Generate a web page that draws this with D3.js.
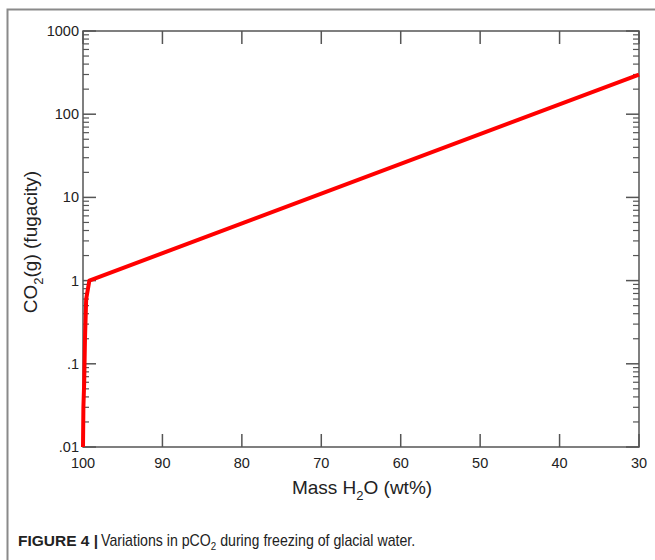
<!DOCTYPE html>
<html><head><meta charset="utf-8">
<script src="https://cdn.jsdelivr.net/npm/d3@7"></script>
<style>body{margin:0;background:#fff}svg{display:block;font-family:"Liberation Sans",Arial,sans-serif}</style>
</head><body><svg id="c" width="655" height="560"></svg>
<script>
const massH2O = [100, 99.95, 99.85, 99.75, 99.6, 99.2, 30];
const fugacity = [0.01, 0.03, 0.06, 0.2, 0.6, 1.0, 300];
const xTicks = [100, 90, 80, 70, 60, 50, 40, 30];
const yTicks = [1000, 100, 10, 1, 0.1, 0.01];
const yTickLabels = ["1000", "100", "10", "1", ".1", ".01"];

const svg = d3.select("#c");
const L = 83, R = 639, T = 31, B = 447;
const x = d3.scaleLinear().domain([100, 30]).range([L, R]);
const y = d3.scaleLog().domain([0.01, 1000]).range([B, T]);

// figure frame
svg.append("path").attr("d", "M7.5,560 V9.5 H655").attr("fill", "none").attr("stroke", "#8a8a8a").attr("stroke-width", 2);

const axCol = "#555";
svg.append("rect").attr("x", L).attr("y", T).attr("width", R - L).attr("height", B - T)
  .attr("fill", "none").attr("stroke", axCol).attr("stroke-width", 1.5);

const minors = [];
for (let e = -2; e < 3; e++) for (let k = 2; k <= 9; k++) minors.push(k * Math.pow(10, e));

const g = svg.append("g");
xTicks.forEach(v => {
  g.append("line").attr("x1", x(v)).attr("x2", x(v)).attr("y1", B).attr("y2", B - 13).attr("stroke", axCol).attr("stroke-width", 1.5);
  g.append("line").attr("x1", x(v)).attr("x2", x(v)).attr("y1", T).attr("y2", T + 13).attr("stroke", axCol).attr("stroke-width", 1.5);
});
yTicks.forEach(v => {
  g.append("line").attr("x1", L).attr("x2", L + 13).attr("y1", y(v)).attr("y2", y(v)).attr("stroke", axCol).attr("stroke-width", 1.5);
  g.append("line").attr("x1", R).attr("x2", R - 13).attr("y1", y(v)).attr("y2", y(v)).attr("stroke", axCol).attr("stroke-width", 1.5);
});
minors.forEach(v => {
  g.append("line").attr("x1", L).attr("x2", L + 6).attr("y1", y(v)).attr("y2", y(v)).attr("stroke", axCol).attr("stroke-width", 1.2);
  g.append("line").attr("x1", R).attr("x2", R - 6).attr("y1", y(v)).attr("y2", y(v)).attr("stroke", axCol).attr("stroke-width", 1.2);
});

xTicks.forEach(v => {
  svg.append("text").attr("x", x(v)).attr("y", 468).attr("text-anchor", "middle").attr("font-size", 14.5).attr("fill", "#222").text(v);
});
yTicks.forEach((v, i) => {
  svg.append("text").attr("x", 79).attr("y", y(v) + 5).attr("text-anchor", "end").attr("font-size", 14.5).attr("fill", "#222").text(yTickLabels[i]);
});

const xt = svg.append("text").attr("x", 362).attr("y", 494).attr("text-anchor", "middle").attr("font-size", 19).attr("fill", "#222");
xt.append("tspan").text("Mass H");
xt.append("tspan").attr("font-size", 13).attr("dy", 6).text("2");
xt.append("tspan").attr("dy", -6).text("O (wt%)");

const yt = svg.append("text").attr("transform", "translate(37,242) rotate(-90)").attr("text-anchor", "middle").attr("font-size", 19).attr("fill", "#222");
yt.append("tspan").text("CO");
yt.append("tspan").attr("font-size", 13).attr("dy", 6).text("2");
yt.append("tspan").attr("dy", -6).text("(g) (fugacity)");

const pts = massH2O.map((m, i) => [m, fugacity[i]]);
svg.append("path").datum(pts)
  .attr("d", d3.line().x(d => x(d[0])).y(d => y(d[1])))
  .attr("fill", "none").attr("stroke", "#ff0000").attr("stroke-width", 4).attr("stroke-linejoin", "round");

// caption
svg.append("text").attr("x", 18).attr("y", 546).attr("font-size", 15.5).attr("font-weight", "bold").attr("fill", "#222").text("FIGURE 4 |");
const cap = svg.append("text").attr("transform", "translate(101,546) scale(0.885,1)").attr("font-size", 16).attr("fill", "#222");
cap.append("tspan").text("Variations in pCO");
cap.append("tspan").attr("font-size", 11).attr("dy", 4).text("2");
cap.append("tspan").attr("dy", -4).text(" during freezing of glacial water.");
</script></body></html>
